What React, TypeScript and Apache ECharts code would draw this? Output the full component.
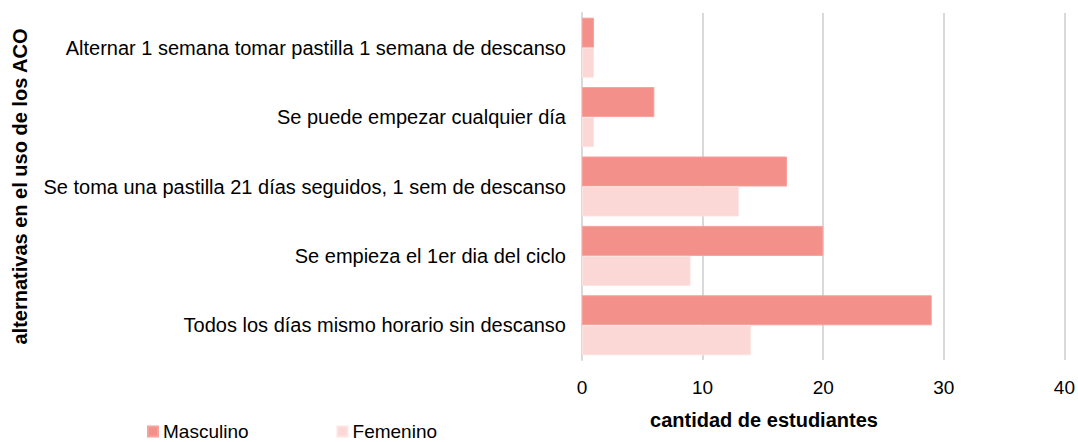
import React, { useEffect, useRef } from "react";
import * as echarts from "echarts";

const categories = [
  "Alternar 1 semana tomar pastilla 1 semana de descanso",
  "Se puede empezar cualquier día",
  "Se toma una pastilla 21 días seguidos, 1 sem de descanso",
  "Se empieza el 1er dia del ciclo",
  "Todos los días mismo horario sin descanso",
];
const masculino = [1, 6, 17, 20, 29];
const femenino = [1, 1, 13, 9, 14];
const seriesNames = ["Masculino", "Femenino"];
const xTicks = { min: 0, max: 40, interval: 10 };

export default function App() {
  const ref = useRef<HTMLDivElement>(null);
  useEffect(() => {
    const chart = echarts.init(ref.current!, null, { renderer: "svg" });
    const font = "Liberation Sans, Arial, sans-serif";
    chart.setOption({
      animation: false,
      textStyle: { fontFamily: font },
      grid: { left: 582, right: 13, top: 13, bottom: 82 },
      legend: {
        left: 142,
        top: 417,
        itemWidth: 10,
        itemHeight: 10,
        itemGap: 88,
        icon: "rect",
        textStyle: { fontSize: 19, color: "#000", fontFamily: font },
        data: seriesNames,
      },
      xAxis: {
        type: "value",
        min: xTicks.min,
        max: xTicks.max,
        interval: xTicks.interval,
        axisLine: { show: false },
        axisTick: { show: false },
        axisLabel: { fontSize: 19, color: "#000", margin: 18, fontFamily: font },
        splitLine: { lineStyle: { color: "#d9d9d9", width: 2 } },
      },
      yAxis: {
        type: "category",
        inverse: true,
        data: categories,
        axisLine: { show: true, lineStyle: { color: "#d9d9d9", width: 2 } },
        axisTick: { show: false },
        axisLabel: { fontSize: 20, color: "#000", margin: 16, fontFamily: font },
        name: "alternativas en el uso de los ACO",
        nameLocation: "middle",
        nameGap: 552,
        nameTextStyle: { fontSize: 20, fontWeight: "bold", color: "#000", fontFamily: font },
      },
      graphic: [
        {
          type: "text",
          x: 764,
          y: 420,
          style: {
            text: "cantidad de estudiantes",
            fontSize: 20,
            fontWeight: "bold",
            fill: "#000",
            fontFamily: font,
            textAlign: "center",
            textVerticalAlign: "middle",
          },
        },
      ],
      series: [
        {
          name: seriesNames[0],
          type: "bar",
          data: masculino,
          barGap: "0%",
          barCategoryGap: "13.5%",
          itemStyle: { color: "#f4908a", borderColor: "#f6a19c", borderWidth: 1 },
        },
        {
          name: seriesNames[1],
          type: "bar",
          data: femenino,
          barGap: "0%",
          barCategoryGap: "13.5%",
          itemStyle: { color: "#fbd7d6", borderColor: "#fde3e2", borderWidth: 1 },
        },
      ],
    });
    return () => chart.dispose();
  }, []);
  return (
    <div
      ref={ref}
      style={{ position: "fixed", left: 0, top: 0, width: 1078, height: 442, background: "#fff" }}
    />
  );
}
